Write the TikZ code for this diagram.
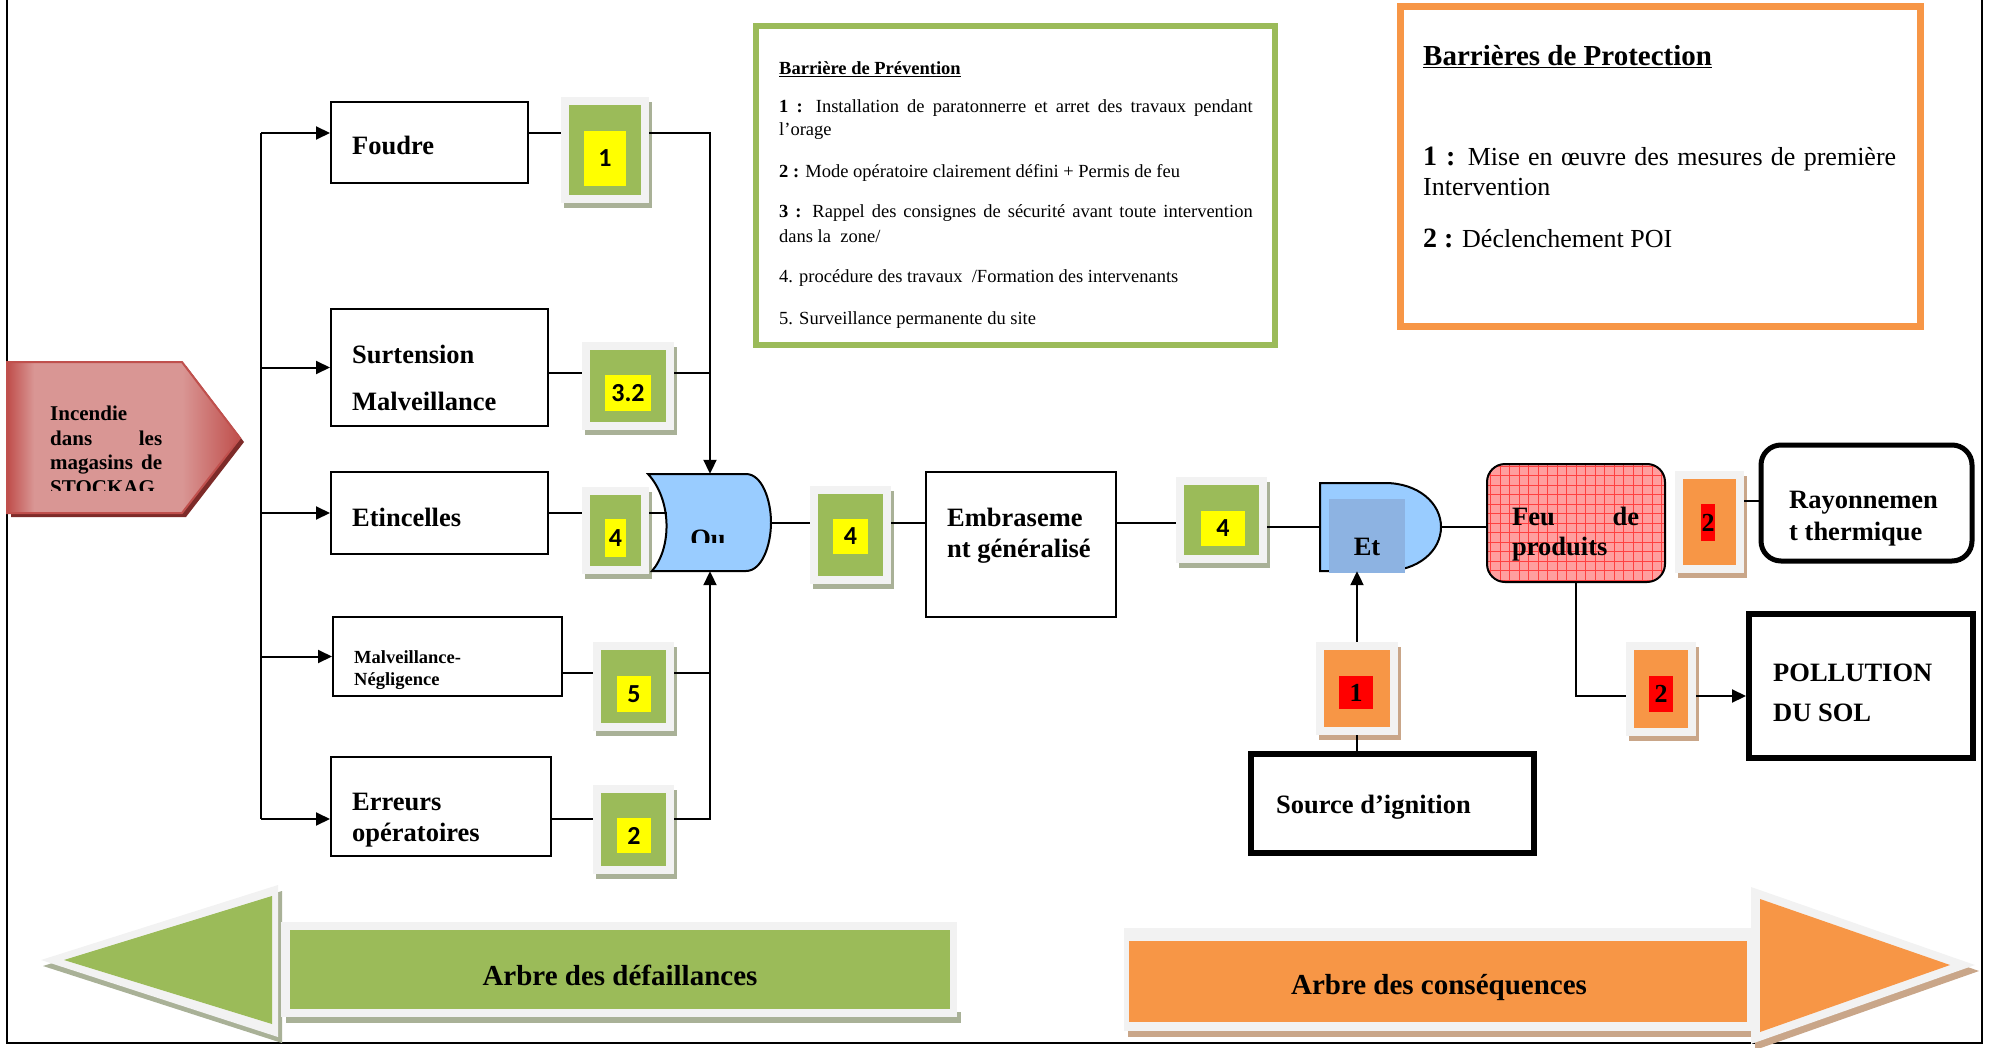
\documentclass[tikz,border=0pt]{standalone}
\usepackage{fontspec}
\setmainfont{Liberation Serif}
\newfontfamily\calfont{Carlito}
\usetikzlibrary{arrows.meta}
\definecolor{vert}{HTML}{9BBB59}
\definecolor{vertsh}{HTML}{A9B197}
\definecolor{jaune}{HTML}{FFFF00}
\definecolor{gris}{HTML}{F2F2F2}
\definecolor{orangeb}{HTML}{F79646}
\definecolor{orangebsh}{HTML}{C9A689}
\definecolor{rouge}{HTML}{FF0000}
\definecolor{bleug}{HTML}{99CCFF}
\definecolor{bleui}{HTML}{8DB3E2}
\definecolor{rosef}{HTML}{FF9E9E}
\definecolor{rougeinc}{HTML}{C0504D}
\definecolor{roseinc}{HTML}{D99694}
\definecolor{incsh}{HTML}{7D2B29}
\newcommand\barr[6]{%
  \fill[#6sh] ({#2+3},{#3+5}) rectangle ({#4+3},{#5+5});
  \node[fill=gris,inner sep=0,minimum width={#4-#2},minimum height={#5-#3}] (#1) at ({(#2+#4)/2},{(#3+#5)/2}) {};
  \fill[#6] ({#2+8},{#3+8}) rectangle ({#4-8},{#5-8});
}
\begin{document}
\begin{tikzpicture}[x=1pt,y=-1pt,
  conn/.style={line width=2pt},
  arr/.style={line width=2pt,-{Triangle[length=14pt,width=13pt]}},
  box/.style={draw,line width=2pt,inner sep=0,fill=white},
  thickbox/.style={draw,line width=6pt,inner sep=0,fill=white},
  txt/.style={anchor=base west,inner sep=0,yshift=-3pt},
  ctxt/.style={anchor=base,inner sep=0,yshift=-3pt},
  lbl/.style={anchor=base west,inner sep=0,yshift=-3pt,font=\fontsize{26.5}{30}\selectfont\bfseries},
  gbadge/.style={fill=jaune,inner sep=0,font=\calfont\fontsize{26}{26}\selectfont\bfseries},
  obadge/.style={fill=rouge,inner sep=0,font=\fontsize{26}{26}\selectfont\bfseries},
  ptxt/.style={anchor=base west,inner sep=0,yshift=-2.5pt,font=\fontsize{18.5}{23}\selectfont},
  qtxt/.style={anchor=base west,inner sep=0,yshift=-3pt,font=\fontsize{26}{30}\selectfont}]
\useasboundingbox (0,0) rectangle (1993,1048);
% page frame
\draw[line width=2pt] (7,0) -- (7,1043) -- (1982,1043) -- (1982,0);

% ---------- bottom arrows ----------
\fill[vertsh] (43,966) -- (282,891) -- (282,1043) -- cycle;
\fill[gris] (41,960) -- (278,885) -- (278,1037) -- cycle;
\fill[vert] (64,960) -- (272,896) -- (272,1024) -- cycle;
\fill[vertsh] (286,1012) rectangle (961,1023);
\fill[gris] (281,922) rectangle (957,1017);
\fill[vert] (290,930) rectangle (950,1009);
\node[ctxt,font=\fontsize{29}{30}\selectfont\bfseries] (arbreg) at (620,982) {Arbre des défaillances};

\fill[orangebsh] (1128,1024) rectangle (1755,1037);
\fill[gris] (1124,928) rectangle (1753,1031);
\fill[orangeb] (1129,941) rectangle (1747,1022);
\fill[orangebsh] (1755,893) -- (1979,971) -- (1755,1050) -- cycle;
\fill[gris] (1751,887) -- (1975,965) -- (1751,1044) -- cycle;
\fill[orangeb] (1760,899) -- (1950,965) -- (1760,1032) -- cycle;
\node[ctxt,font=\fontsize{29}{30}\selectfont\bfseries] (arbred) at (1439,991) {Arbre des conséquences};

% ---------- Incendie ----------
\fill[incsh] (11,366) -- (186,366) -- (244,442) -- (186,517) -- (11,517) -- cycle;
\fill[roseinc] (7,362) -- (182,362) -- (240,438) -- (182,513) -- (7,513) -- cycle;
\shade[left color=rougeinc,right color=roseinc] (8,363) rectangle (34,512);
\shade[left color=roseinc,right color=rougeinc] (182,363) -- (239,438) -- (182,512) -- cycle;
\draw[rougeinc,line width=2pt] (7,362) -- (182,362) -- (240,438) -- (182,513) -- (7,513) -- cycle;
\begin{scope}
\clip (7,362) rectangle (240,490);
\node[txt,yshift=2pt,font=\fontsize{21}{24}\selectfont\bfseries] (inc1) at (50,419) {Incendie};
\node[txt,yshift=2pt,font=\fontsize{21}{24}\selectfont\bfseries] (inc2) at (50,444) {\hbox to 112pt{dans\hfill les}};
\node[txt,yshift=2pt,font=\fontsize{21}{24}\selectfont\bfseries] (inc3) at (50,468) {\hbox to 112pt{magasins\hfill de}};
\node[txt,yshift=2pt,font=\fontsize{21}{24}\selectfont\bfseries] (inc4) at (50,493) {STOCKAG};
\end{scope}

% ---------- left boxes ----------
\node[box,minimum width=197pt,minimum height=81pt] (foudre) at (429.5,142.5) {};
\node[box,minimum width=217pt,minimum height=117pt] (surt) at (439.5,367.5) {};
\node[box,minimum width=217pt,minimum height=82pt] (etin) at (439.5,513) {};
\node[box,minimum width=229pt,minimum height=79pt] (malv) at (447.5,656.5) {};
\node[box,minimum width=220pt,minimum height=99pt] (err) at (441,806.5) {};
\node[lbl] (tfoudre) at (352,152) {Foudre};
\node[lbl] (tsurt1) at (352,360) {Surtension};
\node[lbl] (tsurt2) at (352,407) {Malveillance};
\node[lbl] (tetin) at (352,523) {Etincelles};
\node[txt,font=\fontsize{18.5}{22}\selectfont\bfseries] (tmalv1) at (354,660) {Malveillance-};
\node[txt,font=\fontsize{18.5}{22}\selectfont\bfseries] (tmalv2) at (354,682) {Négligence};
\node[lbl] (terr1) at (352,807) {Erreurs};
\node[lbl] (terr2) at (352,838) {opératoires};

% ---------- green barriers ----------
\barr{b1}{561}{97}{649}{203}{vert}
\node[gbadge,minimum width=42pt,minimum height=55pt] (b1n) at (605,158.5) {1};
\barr{b32}{582}{342}{674}{430}{vert}
\node[gbadge,minimum width=46pt,minimum height=36pt] (b32n) at (628,393) {3.2};
\barr{b4a}{582}{487}{649}{574}{vert}
\node[gbadge,minimum width=21pt,minimum height=38pt] (b4an) at (615.5,538) {4};
\barr{b5}{593}{642}{674}{731}{vert}
\node[gbadge,minimum width=34pt,minimum height=36pt] (b5n) at (634,694) {5};
\barr{b2}{593}{785}{674}{874}{vert}
\node[gbadge,minimum width=34pt,minimum height=35pt] (b2n) at (634,835.5) {2};
\barr{b4b}{810}{486}{891}{584}{vert}
\node[gbadge,minimum width=35pt,minimum height=35pt] (b4bn) at (850.5,536.5) {4};
\barr{b4c}{1176}{477}{1267}{563}{vert}
\node[gbadge,minimum width=44pt,minimum height=35pt] (b4cn) at (1223,528.5) {4};

% ---------- Ou gate ----------
\node[inner sep=0,minimum width=122pt,minimum height=97pt] (ou) at (710,522.5) {};
\draw[line width=2pt,fill=bleug] (648,474) -- (746,474) .. controls (762,474) and (771,500) .. (771,522.5) .. controls (771,545) and (762,571) .. (746,571) -- (652,571) .. controls (672,548) and (672,500) .. (648,474) -- cycle;
\coordinate (ouin) at (667,513);
\begin{scope}
\clip (680,520) rectangle (740,542);
\node[anchor=base,inner sep=0,font=\fontsize{26.5}{30}\selectfont\bfseries] (touq) at (708,547) {Ou};
\end{scope}

% ---------- Embrasement ----------
\node[box,minimum width=190pt,minimum height=145pt] (embr) at (1021,544.5) {};
\node[lbl] (tembr1) at (947,523) {Embraseme};
\node[lbl] (tembr2) at (947,554) {nt généralisé};

% ---------- Et gate ----------
\node[inner sep=0,minimum width=121pt,minimum height=88pt] (et) at (1380.5,527) {};
\draw[line width=2pt,fill=bleug] (1320,483) -- (1385,483) .. controls (1418,483) and (1441,503) .. (1441,527) .. controls (1441,551) and (1418,571) .. (1385,571) -- (1320,571) -- cycle;
\fill[bleui] (1329,499) rectangle (1405,573);
\node[ctxt,font=\fontsize{26.5}{30}\selectfont\bfseries] (tet) at (1367,552) {Et};

% ---------- Feu de produits ----------
\node[draw,line width=2pt,fill=rosef,rounded corners=18pt,inner sep=0,minimum width=178pt,minimum height=118pt,
  path picture={\draw[red!75,line width=0.7pt,step=9.5pt] (path picture bounding box.south west) grid (path picture bounding box.north east);}] (feu) at (1576,523) {};
\node[lbl] (tfeu1) at (1512,522) {\hbox to 127pt{Feu\hfill de}};
\node[lbl] (tfeu2) at (1512,552) {produits};

% ---------- orange barriers ----------
\barr{ob3}{1675}{471}{1744}{573}{orangeb}
\node[obadge,minimum width=14pt,minimum height=37pt] (ob3n) at (1708,522.5) {2};
\barr{ob2}{1626}{642}{1696}{736}{orangeb}
\node[obadge,minimum width=24pt,minimum height=36pt] (ob2n) at (1661,694) {2};
\barr{ob1}{1316}{642}{1398}{735}{orangeb}
\node[obadge,minimum width=34pt,minimum height=33pt] (ob1n) at (1356,692.5) {1};

% ---------- right boxes ----------
\node[draw,line width=5pt,rounded corners=20pt,inner sep=0,minimum width=211pt,minimum height=116pt,fill=white] (ray) at (1866.5,503) {};
\node[lbl] (tray1) at (1789,505) {Rayonnemen};
\node[lbl] (tray2) at (1789,537) {t thermique};
\node[thickbox,minimum width=224pt,minimum height=144pt] (pol) at (1861,686) {};
\node[lbl] (tpol1) at (1773,678) {POLLUTION};
\node[lbl] (tpol2) at (1773,718) {DU SOL};
\node[thickbox,minimum width=283pt,minimum height=99pt] (src) at (1392.5,803.5) {};
\node[lbl] (tsrc) at (1276,810) {Source d’ignition};

% ---------- barrier legends ----------
\node[draw=vert,line width=6pt,inner sep=0,minimum width=519pt,minimum height=319pt] (prev) at (1015.5,185.5) {};
\node[ptxt,font=\fontsize{18.5}{23}\selectfont\bfseries] (prevt) at (779,72) {\underline{Barrière de Prévention}};
\node[ptxt] (p1a) at (779,110) {\hbox to 473.5pt{\textbf{1 :} Installation de paratonnerre et arret des travaux pendant}};
\node[ptxt] (p1b) at (779,133) {l’orage};
\node[ptxt] (p2) at (779,175) {\textbf{2 :} Mode opératoire clairement défini + Permis de feu};
\node[ptxt] (p3a) at (779,215) {\hbox to 473.5pt{\textbf{3 :} Rappel des consignes de sécurité avant toute intervention}};
\node[ptxt] (p3b) at (779,240) {dans la \ zone/};
\node[ptxt] (p4) at (779,280) {4. procédure des travaux \ /Formation des intervenants};
\node[ptxt] (p5) at (779,322) {5. Surveillance permanente du site};

\node[draw=orangeb,line width=7pt,inner sep=0,minimum width=520pt,minimum height=320pt] (prot) at (1660,167) {};
\node[qtxt,font=\fontsize{29}{30}\selectfont\bfseries] (prott) at (1423,63) {\underline{Barrières de Protection}};
\node[qtxt] (q1a) at (1423,163) {\hbox to 473pt{{\bfseries\fontsize{28}{30}\selectfont 1 :} Mise en œuvre des mesures de première}};
\node[qtxt] (q1b) at (1423,193) {Intervention};
\node[qtxt] (q2) at (1423,245) {{\bfseries\fontsize{28}{30}\selectfont 2 :} Déclenchement POI};

% ---------- connectors ----------
\coordinate (bus) at (261,133);
\coordinate (busend) at (261,819);
\coordinate (fA) at ([yshift=9.5pt]foudre.east);
\coordinate (fW) at ([yshift=9.5pt]foudre.west);
\coordinate (sA) at ([yshift=-5.5pt]surt.east);
\coordinate (mA) at ([yshift=-16.5pt]malv.east);
\coordinate (eA) at ([yshift=-12.5pt]err.east);
\coordinate (eW) at ([yshift=-12.5pt]err.west);
\coordinate (oA) at ([yshift=-7pt]ob2.west);
\coordinate (rA) at ([yshift=21pt]ob3.east);

\draw[conn] (bus) -- (busend);
\draw[arr] (fW -| bus) -- (fW);
\draw[arr] (surt.west -| bus) -- (surt.west);
\draw[arr] (etin.west -| bus) -- (etin.west);
\draw[arr] (malv.west -| bus) -- (malv.west);
\draw[arr] (eW -| bus) -- (eW);

\draw[conn] (fA) -- (fA -| b1.west);
\draw[arr] (fA -| b1.east) -| (ou.north);
\draw[conn] (sA) -- (sA -| b32.west);
\draw[conn] (sA -| b32.east) -- (sA -| ou.north);
\draw[conn] (etin.east) -- (etin.east -| b4a.west);
\draw[conn] (etin.east -| b4a.east) -- (ouin);
\draw[conn] (mA) -- (mA -| b5.west);
\draw[conn] (mA -| b5.east) -- (mA -| ou.south);
\draw[conn] (eA) -- (eA -| b2.west);
\draw[arr] (eA -| b2.east) -| (ou.south);

\draw[conn] (ou.east) -- (ou.east -| b4b.west);
\draw[conn] (ou.east -| b4b.east) -- (ou.east -| embr.west);
\draw[conn] (ou.east -| embr.east) -- (ou.east -| b4c.west);
\draw[conn] (et.west -| b4c.east) -- (et.west);
\draw[conn] (et.east) -- (et.east -| feu.west);
\draw[conn] (src.north -| ob1.south) -- (ob1.south);
\draw[arr] (ob1.north) -- (ob1.north |- et.south);
\draw[conn] (feu.south) |- (oA);
\draw[arr] (oA -| ob2.east) -- (oA -| pol.west);
\draw[conn] (rA) -- (rA -| ray.west);
\end{tikzpicture}
\end{document}
